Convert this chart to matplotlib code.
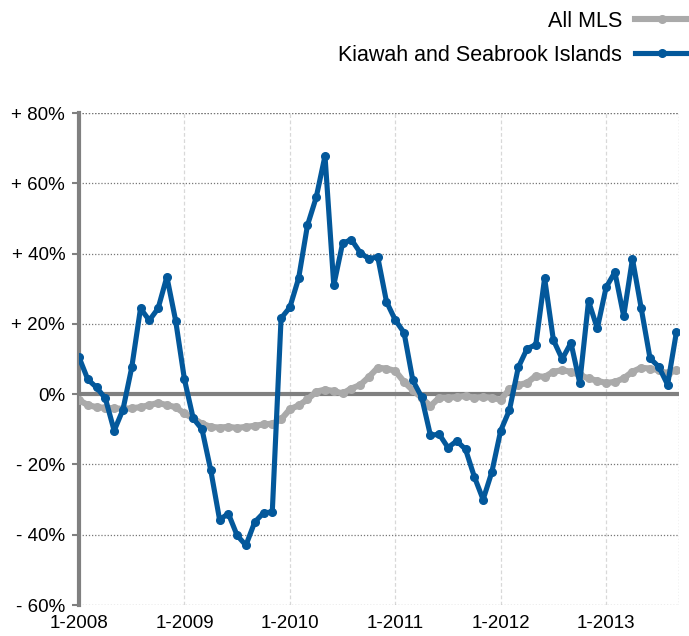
import matplotlib
matplotlib.use("Agg")
import matplotlib.pyplot as plt
from matplotlib.lines import Line2D

plt.rcParams['font.family'] = ['Liberation Sans', 'DejaVu Sans']

# monthly values, Jan 2008 .. Sep 2013 (percent)
kiawah = [10.5, 4.2, 1.9, -1.2, -10.4, -4.4, 7.6, 24.4, 21.0, 24.4, 33.4, 20.9,
          4.2, -6.9, -10.0, -21.7, -35.7, -34.0, -40.2, -43.0, -36.4, -33.8, -33.5, 21.6,
          24.7, 33.0, 48.0, 56.0, 67.8, 31.0, 42.9, 44.0, 40.3, 38.5, 39.1, 26.3,
          21.1, 17.5, 3.9, -0.8, -11.7, -11.4, -15.2, -13.3, -15.7, -23.5, -30.0, -22.1,
          -10.4, -4.5, 7.6, 12.9, 14.1, 33.0, 15.4, 10.0, 14.6, 3.2, 26.5, 18.7,
          30.4, 34.7, 22.2, 38.5, 24.4, 10.2, 7.8, 2.7, 17.6]
all_mls = [-1.7, -3.1, -3.7, -3.9, -4.0, -4.2, -4.0, -3.7, -3.1, -2.5, -3.1, -3.7,
           -5.5, -6.9, -8.4, -9.3, -9.5, -9.3, -9.6, -9.3, -9.0, -8.6, -8.4, -7.2,
           -4.3, -3.2, -1.5, 0.7, 1.3, 0.9, 0.2, 1.6, 2.6, 4.9, 7.5, 7.3,
           6.6, 3.5, 1.1, -1.0, -3.4, -1.0, -1.0, -0.8, -0.5, -1.0, -0.8, -1.0,
           -1.6, 1.4, 2.6, 3.2, 5.2, 4.9, 6.4, 6.8, 6.4, 5.4, 4.5, 3.8,
           3.2, 3.5, 4.5, 6.4, 7.5, 7.3, 6.8, 5.9, 6.8]
year_labels = ['1-2008', '1-2009', '1-2010', '1-2011', '1-2012', '1-2013']
y_ticks = [80, 60, 40, 20, 0, -20, -40, -60]
y_labels = ['+ 80%', '+ 60%', '+ 40%', '+ 20%', '0%', '- 20%', '- 40%', '- 60%']

blue = '#03589b'
gray = '#aaaaaa'

fig = plt.figure(figsize=(6.89, 6.36), dpi=100)
ax = fig.add_axes([0.1147, 0.0487, 0.8708, 0.7736])

months = list(range(len(kiawah)))
ax.plot(months, all_mls, color=gray, lw=4.4, marker='o', ms=5.5, zorder=3)
ax.plot(months, kiawah, color=blue, lw=3.7, marker='o', ms=5.5, zorder=4)

ax.set_xlim(0, 68.3)
ax.set_ylim(-60, 80)
ax.set_yticks(y_ticks)
ax.set_yticklabels(y_labels, fontsize=13.5)
ax.set_xticks(range(0, 72, 12))
ax.set_xticklabels(year_labels, fontsize=13.5)

ax.grid(axis='y', color='#777777', ls=(0, (1, 1.5)), lw=0.9)
ax.grid(axis='x', color='#d8d8d8', ls=(0, (3, 2)), lw=0.9)
ax.axhline(0, color='#808080', lw=3, zorder=2)

for s in ['top', 'right', 'bottom']:
    ax.spines[s].set_visible(False)
ax.spines['left'].set_color('#808080')
ax.spines['left'].set_linewidth(3)
ax.axvline(68.3, color='#999999', ls=(0, (1, 1.5)), lw=0.9)
ax.axhline(80, color='#777777', ls=(0, (1, 1.5)), lw=0.9)
ax.tick_params(axis='y', length=5, width=1.5, color='#808080', pad=5)
ax.tick_params(axis='x', length=0, pad=7)

handles = [Line2D([], [], color=gray, lw=4.4, marker='o', ms=5.5),
           Line2D([], [], color=blue, lw=3.7, marker='o', ms=5.5)]
fig.legend(handles, ['All MLS', 'Kiawah and Seabrook Islands'], loc='upper right',
           bbox_to_anchor=(1.0, 0.983), frameon=False, markerfirst=False,
           fontsize=15.5, handlelength=2.5, labelspacing=0.6, handletextpad=0.6,
           borderpad=0, borderaxespad=0)

fig.savefig('out.png', dpi=100)
